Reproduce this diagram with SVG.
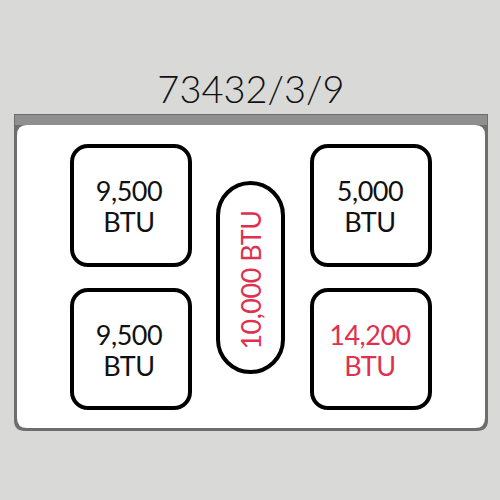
<svg xmlns="http://www.w3.org/2000/svg" width="500" height="500" viewBox="0 0 500 500">
<style>
.box{fill:#fff;stroke:#000;stroke-width:4}
.t{font-family:"Century Gothic",Lato,"Liberation Sans",sans-serif;font-size:27px;text-anchor:middle;fill:#111;letter-spacing:-0.5px}
.red{fill:#e0304e}
</style>
<rect width="500" height="500" fill="#d9d9d7"/>
<g id="panel">
<path d="M14 114 H488 V420 Q488 431 477 431 H25 Q14 431 14 420 Z" fill="#6e6e6e"/>
<rect x="15" y="115" width="472" height="10" fill="#8f8f8f"/>
<path d="M17 135 Q17 125 27 125 H475 Q485 125 485 135 V418 Q485 428 475 428 H27 Q17 428 17 418 Z" fill="#fff"/>
</g>
<text id="title" x="251" y="103" font-family="Lato,'DejaVu Sans',sans-serif" font-weight="300" font-size="38" text-anchor="middle" fill="#111">73432/3/9</text>
<g id="b1"><rect class="box" x="72" y="146" width="118" height="119" rx="16"/><text class="t" x="129" y="201">9,500</text><text class="t" x="129" y="232">BTU</text></g>
<g id="b2"><rect class="box" x="72" y="290" width="118" height="118" rx="16"/><text class="t" x="129" y="345">9,500</text><text class="t" x="129" y="376">BTU</text></g>
<g id="b3"><rect class="box" x="312" y="146" width="118" height="119" rx="16"/><text class="t" x="370" y="201">5,000</text><text class="t" x="370" y="232">BTU</text></g>
<g id="b4"><rect class="box" x="312" y="290" width="118" height="118" rx="16"/><text class="t red" x="370" y="345">14,200</text><text class="t red" x="370" y="376">BTU</text></g>
<g id="pill"><rect class="box" x="218" y="183" width="65" height="189" rx="32.5"/><text class="t red" transform="translate(261 280) rotate(-90)" x="0" y="0">10,000 BTU</text></g>
</svg>
